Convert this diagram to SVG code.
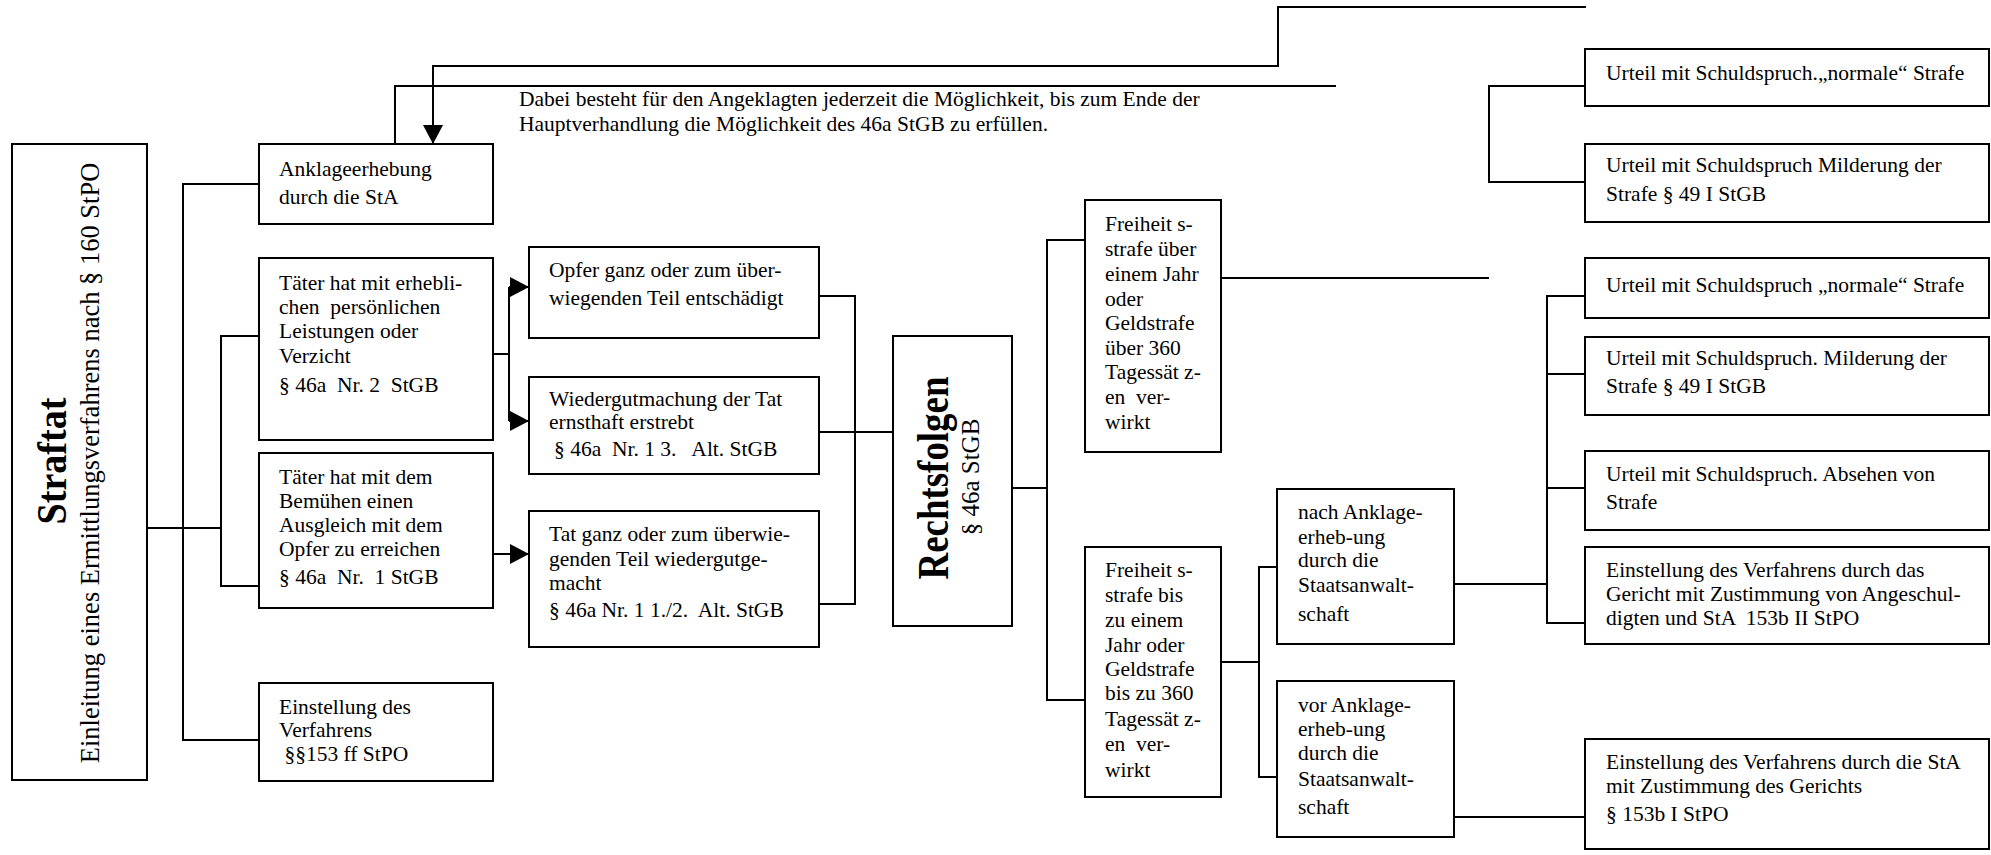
<svg xmlns="http://www.w3.org/2000/svg" width="1991" height="855" viewBox="0 0 1991 855">
<style>
.box{fill:#fff;stroke:#000;stroke-width:2}
.ln{fill:none;stroke:#000;stroke-width:2}
text{font-family:"Liberation Serif","Times New Roman",serif;font-size:21.5px;fill:#000;white-space:pre}
.big{font-weight:bold}
</style>
<defs>
<marker id="arr" viewBox="0 0 19 20" refX="19" refY="10" markerWidth="19" markerHeight="20" markerUnits="userSpaceOnUse" orient="auto">
<path d="M0,0 L19,10 L0,20 z" fill="#000"/>
</marker>
</defs>
<g id="connectors">
<polyline class="ln" points="1586,7 1278,7 1278,66 433,66 433,144" marker-end="url(#arr)"/>
<polyline class="ln" points="1336,86 395,86 395,144"/>
<polyline class="ln" points="147,528 221,528"/>
<polyline class="ln" points="259,184 183,184 183,740 259,740"/>
<polyline class="ln" points="259,336 221,336 221,586 259,586"/>
<polyline class="ln" points="493,354 509,354"/>
<polyline class="ln" points="509,287 509,421"/>
<line class="ln" x1="509" y1="287" x2="529" y2="287" marker-end="url(#arr)"/>
<line class="ln" x1="509" y1="421" x2="529" y2="421" marker-end="url(#arr)"/>
<line class="ln" x1="493" y1="554" x2="529" y2="554" marker-end="url(#arr)"/>
<polyline class="ln" points="819,296 855,296 855,604 819,604"/>
<polyline class="ln" points="819,432 893,432"/>
<polyline class="ln" points="1012,488 1047,488"/>
<polyline class="ln" points="1085,240 1047,240 1047,700 1085,700"/>
<polyline class="ln" points="1221,278 1489,278"/>
<polyline class="ln" points="1585,86 1489,86 1489,182 1585,182"/>
<polyline class="ln" points="1221,662 1259,662"/>
<polyline class="ln" points="1277,567 1259,567 1259,777 1277,777"/>
<polyline class="ln" points="1454,584 1547,584"/>
<polyline class="ln" points="1585,296 1547,296 1547,623 1585,623"/>
<polyline class="ln" points="1547,374 1585,374"/>
<polyline class="ln" points="1547,488 1585,488"/>
<polyline class="ln" points="1454,817 1585,817"/>
</g>
<g id="note">
<text x="519" y="106">Dabei besteht für den Angeklagten jederzeit die Möglichkeit, bis zum Ende der</text>
<text x="519" y="131">Hauptverhandlung die Möglichkeit des 46a StGB zu erfüllen.</text>
</g>
<g id="straftat">
<rect class="box" x="12" y="144" width="135" height="636"/>
<text class="big" transform="translate(66,461) rotate(-90)" text-anchor="middle" textLength="127" lengthAdjust="spacingAndGlyphs" style="font-size:42px">Straftat</text>
<text transform="translate(99,463) rotate(-90)" text-anchor="middle" style="font-size:26.5px">Einleitung eines Ermittlungsverfahrens nach § 160 StPO</text>
</g>
<g id="anklage">
<rect class="box" x="259" y="144" width="234" height="80"/>
<text x="279" y="176">Anklageerhebung</text>
<text x="279" y="204">durch die StA</text>
</g>
<g id="taeter1">
<rect class="box" x="259" y="258" width="234" height="182"/>
<text x="279" y="290">Täter hat mit erhebli-</text>
<text x="279" y="314">chen  persönlichen</text>
<text x="279" y="338">Leistungen oder</text>
<text x="279" y="363">Verzicht</text>
<text x="279" y="392">§ 46a  Nr. 2  StGB</text>
</g>
<g id="taeter2">
<rect class="box" x="259" y="453" width="234" height="155"/>
<text x="279" y="484">Täter hat mit dem</text>
<text x="279" y="508">Bemühen einen</text>
<text x="279" y="532">Ausgleich mit dem</text>
<text x="279" y="556">Opfer zu erreichen</text>
<text x="279" y="584">§ 46a  Nr.  1 StGB</text>
</g>
<g id="einstellung1">
<rect class="box" x="259" y="683" width="234" height="98"/>
<text x="279" y="714">Einstellung des</text>
<text x="279" y="737">Verfahrens</text>
<text x="279" y="761"> §§153 ff StPO</text>
</g>
<g id="opfer">
<rect class="box" x="529" y="247" width="290" height="91"/>
<text x="549" y="277">Opfer ganz oder zum über-</text>
<text x="549" y="305">wiegenden Teil entschädigt</text>
</g>
<g id="wiedergut">
<rect class="box" x="529" y="377" width="290" height="97"/>
<text x="549" y="406">Wiedergutmachung der Tat</text>
<text x="549" y="429">ernsthaft erstrebt</text>
<text x="554" y="456">§ 46a  Nr. 1 3.   Alt. StGB</text>
</g>
<g id="tat">
<rect class="box" x="529" y="511" width="290" height="136"/>
<text x="549" y="541">Tat ganz oder zum überwie-</text>
<text x="549" y="566">genden Teil wiedergutge-</text>
<text x="549" y="590">macht</text>
<text x="549" y="617">§ 46a Nr. 1 1./2.  Alt. StGB</text>
</g>
<g id="rechtsfolgen">
<rect class="box" x="893" y="336" width="119" height="290"/>
<text class="big" transform="translate(948,478) rotate(-90)" text-anchor="middle" textLength="203" lengthAdjust="spacingAndGlyphs" style="font-size:44px">Rechtsfolgen</text>
<text transform="translate(979,477) rotate(-90)" text-anchor="middle" style="font-size:25px">§ 46a StGB</text>
</g>
<g id="freiheit1">
<rect class="box" x="1085" y="200" width="136" height="252"/>
<text x="1105" y="231">Freiheit s-</text>
<text x="1105" y="256">strafe über</text>
<text x="1105" y="281">einem Jahr</text>
<text x="1105" y="306">oder</text>
<text x="1105" y="330">Geldstrafe</text>
<text x="1105" y="355">über 360</text>
<text x="1105" y="379">Tagessät z-</text>
<text x="1105" y="404">en  ver-</text>
<text x="1105" y="429">wirkt</text>
</g>
<g id="freiheit2">
<rect class="box" x="1085" y="547" width="136" height="250"/>
<text x="1105" y="577">Freiheit s-</text>
<text x="1105" y="602">strafe bis</text>
<text x="1105" y="627">zu einem</text>
<text x="1105" y="652">Jahr oder</text>
<text x="1105" y="676">Geldstrafe</text>
<text x="1105" y="700">bis zu 360</text>
<text x="1105" y="726">Tagessät z-</text>
<text x="1105" y="751">en  ver-</text>
<text x="1105" y="777">wirkt</text>
</g>
<g id="nach">
<rect class="box" x="1277" y="489" width="177" height="155"/>
<text x="1298" y="519">nach Anklage-</text>
<text x="1298" y="544">erheb-ung</text>
<text x="1298" y="567">durch die</text>
<text x="1298" y="592">Staatsanwalt-</text>
<text x="1298" y="621">schaft</text>
</g>
<g id="vor">
<rect class="box" x="1277" y="681" width="177" height="156"/>
<text x="1298" y="712">vor Anklage-</text>
<text x="1298" y="736">erheb-ung</text>
<text x="1298" y="760">durch die</text>
<text x="1298" y="786">Staatsanwalt-</text>
<text x="1298" y="814">schaft</text>
</g>
<g id="urteil1">
<rect class="box" x="1585" y="49" width="404" height="57"/>
<text x="1606" y="80">Urteil mit Schuldspruch.„normale“ Strafe</text>
</g>
<g id="urteil2">
<rect class="box" x="1585" y="144" width="404" height="78"/>
<text x="1606" y="172">Urteil mit Schuldspruch Milderung der</text>
<text x="1606" y="201">Strafe § 49 I StGB</text>
</g>
<g id="urteil3">
<rect class="box" x="1585" y="258" width="404" height="60"/>
<text x="1606" y="292">Urteil mit Schuldspruch „normale“ Strafe</text>
</g>
<g id="urteil4">
<rect class="box" x="1585" y="337" width="404" height="78"/>
<text x="1606" y="365">Urteil mit Schuldspruch. Milderung der</text>
<text x="1606" y="393">Strafe § 49 I StGB</text>
</g>
<g id="urteil5">
<rect class="box" x="1585" y="451" width="404" height="79"/>
<text x="1606" y="481">Urteil mit Schuldspruch. Absehen von</text>
<text x="1606" y="509">Strafe</text>
</g>
<g id="einstellung2">
<rect class="box" x="1585" y="547" width="404" height="97"/>
<text x="1606" y="577">Einstellung des Verfahrens durch das</text>
<text x="1606" y="601">Gericht mit Zustimmung von Angeschul-</text>
<text x="1606" y="625">digten und StA  153b II StPO</text>
</g>
<g id="einstellung3">
<rect class="box" x="1585" y="739" width="404" height="110"/>
<text x="1606" y="769">Einstellung des Verfahrens durch die StA</text>
<text x="1606" y="793">mit Zustimmung des Gerichts</text>
<text x="1606" y="821">§ 153b I StPO</text>
</g>
</svg>
